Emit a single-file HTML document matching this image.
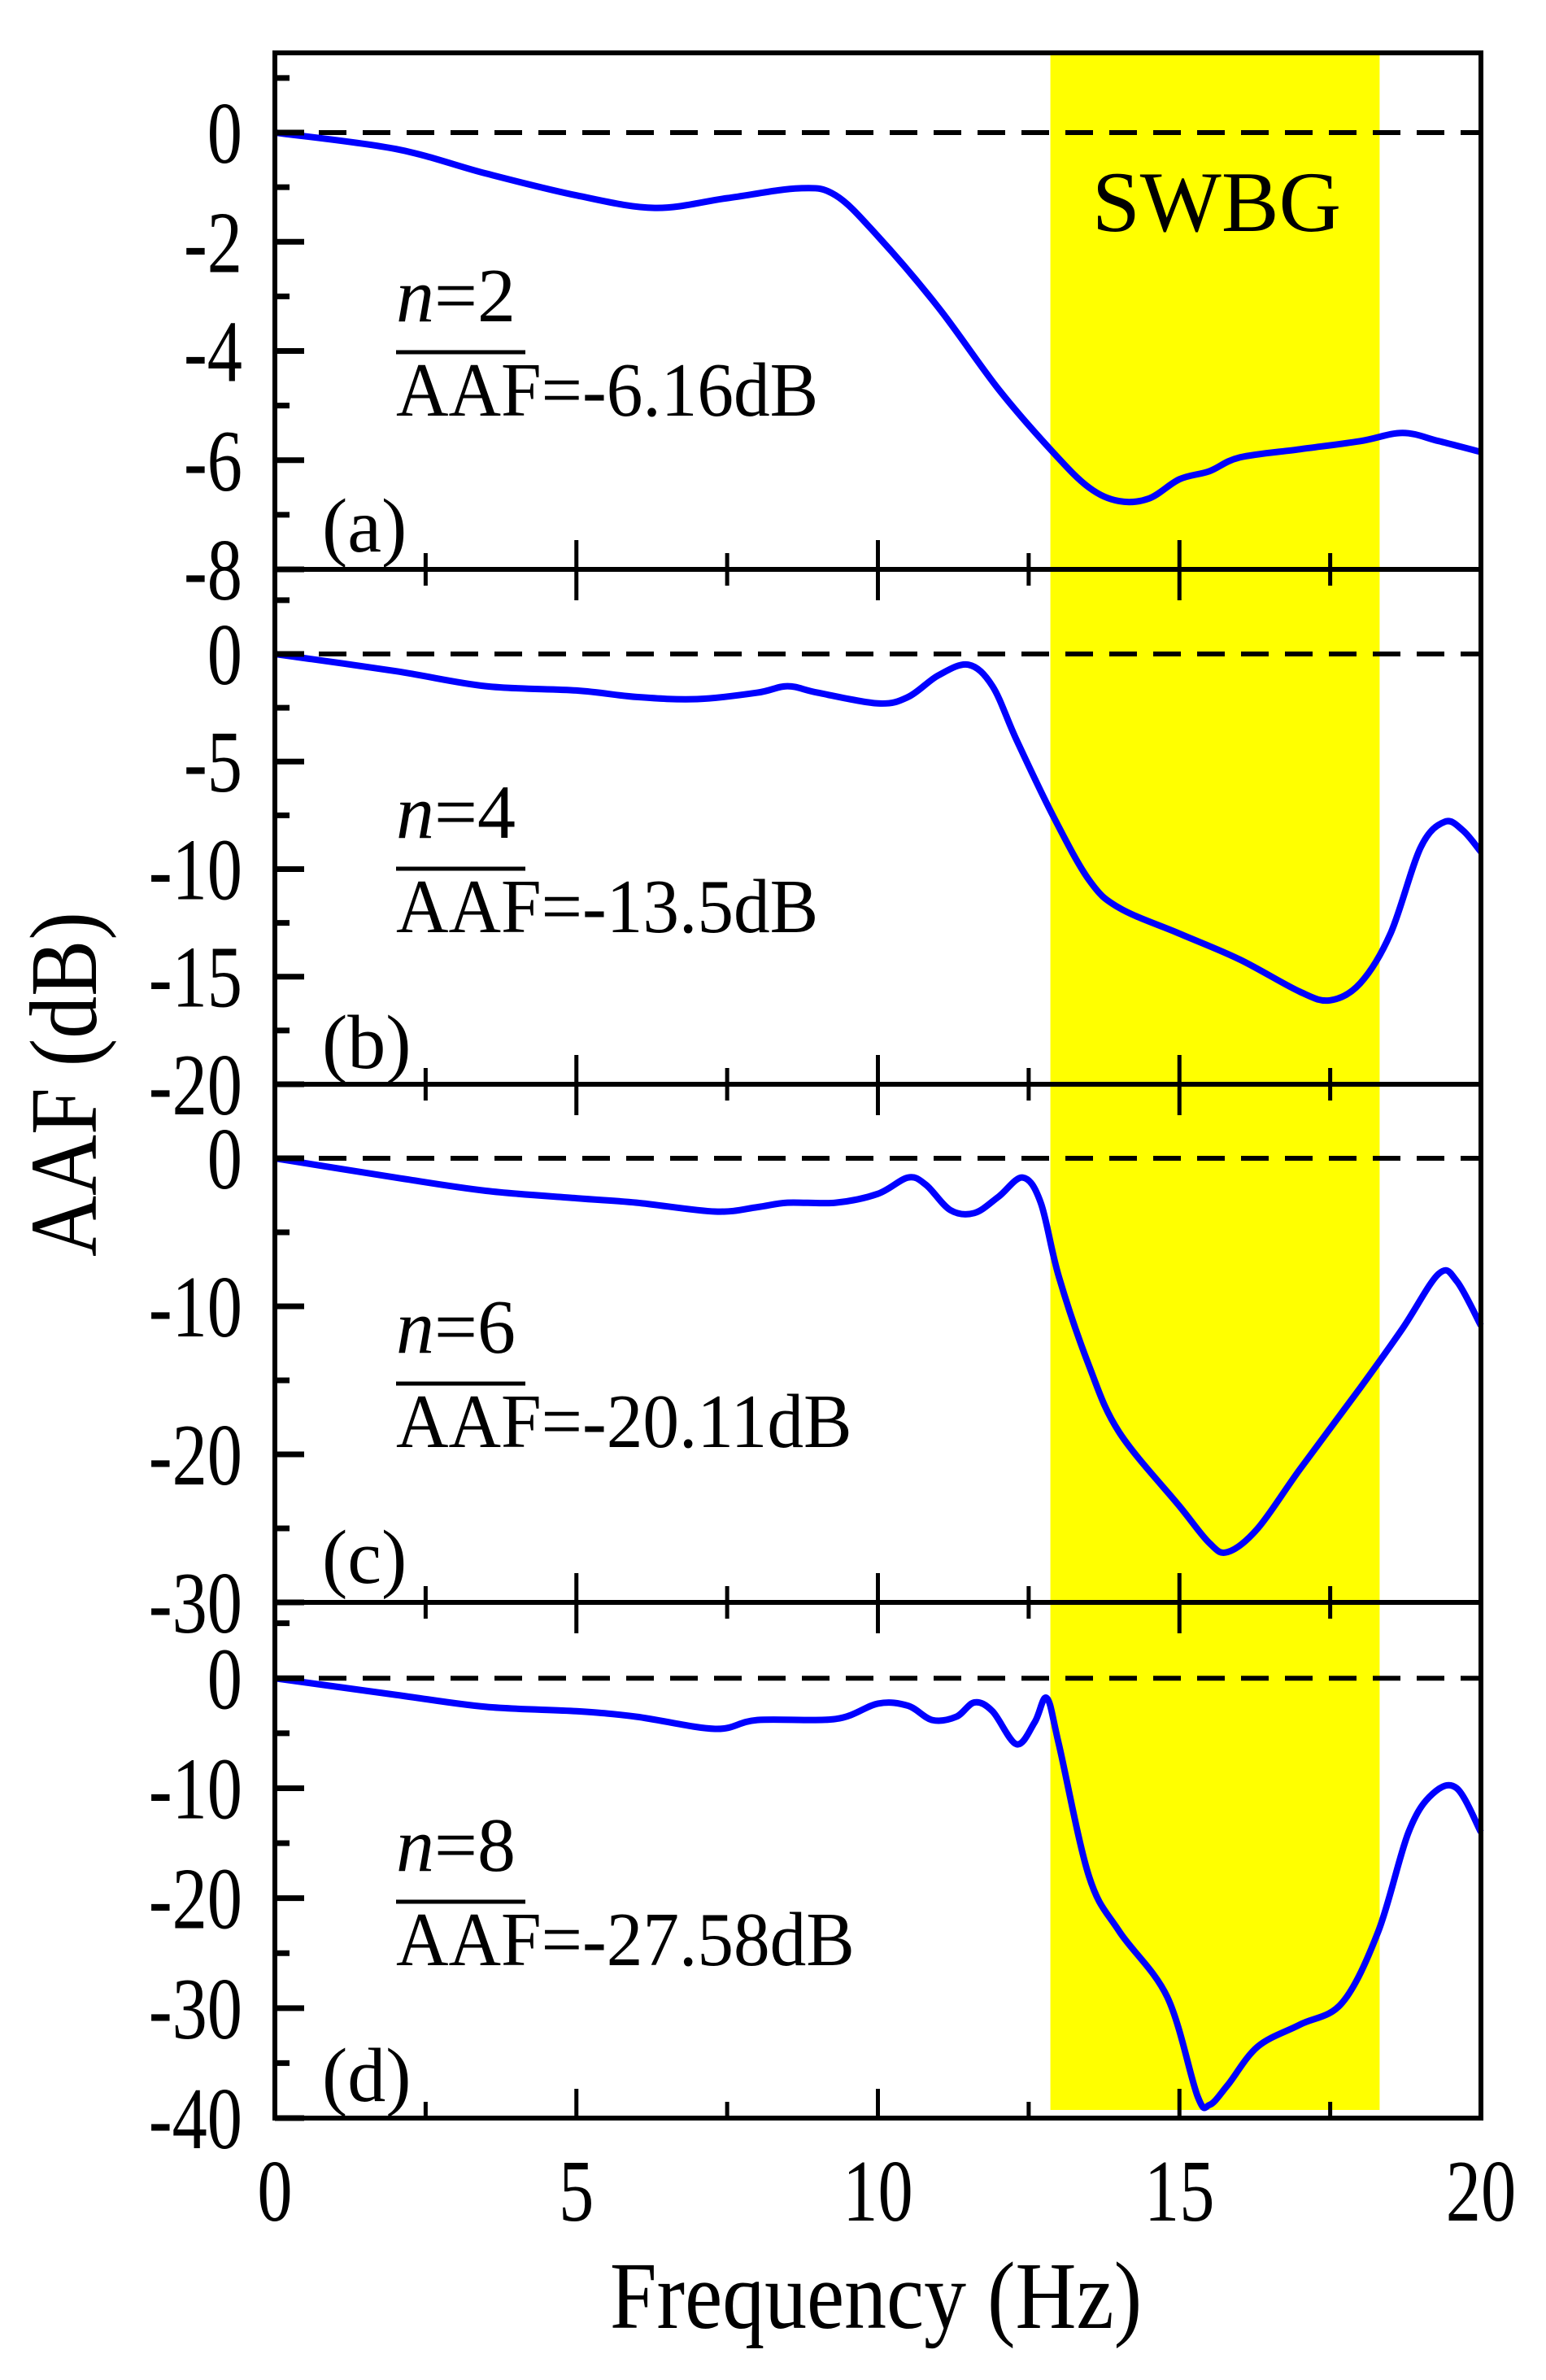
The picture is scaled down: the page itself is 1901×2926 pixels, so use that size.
<!DOCTYPE html>
<html><head><meta charset="utf-8"><style>
html,body{margin:0;padding:0;background:#fff;}
svg{display:block;font-family:"Liberation Serif",serif;}
</style></head><body>
<svg id="chart" width="1901" height="2926" viewBox="0 0 1901 2926" xmlns="http://www.w3.org/2000/svg"></svg>
<script>
const xTicks = [0, 5, 10, 15, 20];
const xMinorTicks = [2.5, 7.5, 12.5, 17.5];
const bandRange = [12.86, 18.32];
const panelLabels = ['(a)', '(b)', '(c)', '(d)'];
const nLabels = ['2', '4', '6', '8'];
const aafLabels = ['=-6.16dB', '=-13.5dB', '=-20.11dB', '=-27.58dB'];
const yRanges = [[-8, 1.46], [-20, 3.93], [-30, 5.0], [-40, 6.9]];
const yMajor = [[0, -2, -4, -6, -8], [0, -5, -10, -15, -20], [0, -10, -20, -30], [0, -10, -20, -30, -40]];
const yMinor = [[1, -1, -3, -5, -7], [2.5, -2.5, -7.5, -12.5, -17.5], [5, -5, -15, -25], [5, -5, -15, -25, -35]];
const freqA = [0,2,3.5,5,6.3,7.5,8.7,9.3,10,11,12,12.9,13.5,14,14.5,15,15.5,16,17,18,18.7,19.3,20];
const aafA = [0,-0.3,-0.75,-1.15,-1.38,-1.2,-1.02,-1.15,-1.9,-3.2,-4.7,-5.85,-6.5,-6.75,-6.7,-6.35,-6.2,-5.95,-5.8,-5.65,-5.5,-5.65,-5.85];
const freqB = [0,2,3.5,5,6,7,8,8.5,9,10,10.5,11,11.5,11.9,12.3,12.9,13.5,14,15,16,17,17.5,18,18.5,19,19.4,19.7,20];
const aafB = [0,-0.8,-1.5,-1.7,-2.0,-2.1,-1.8,-1.5,-1.8,-2.3,-2.0,-1.0,-0.5,-1.5,-4,-7.5,-10.5,-11.8,-13,-14.2,-15.7,-16.1,-15.3,-13,-9,-7.8,-8.2,-9.2];
const freqC = [0,2,3.5,5,6,7.3,8,8.5,9.3,10,10.5,10.8,11.2,11.6,12,12.4,12.7,13,13.5,14,15,15.5,15.8,16.3,17,18,18.7,19.3,19.6,20];
const aafC = [0,-1.3,-2.2,-2.7,-3.0,-3.6,-3.3,-3.0,-3.0,-2.4,-1.3,-1.8,-3.5,-3.7,-2.6,-1.3,-3,-8,-14,-18.5,-23.5,-26,-26.6,-25,-21,-15.5,-11.5,-7.8,-8.3,-11.3];
const freqD = [0,2,3.5,5,6,7.3,8,9.3,10,10.5,10.9,11.3,11.6,11.9,12.3,12.6,12.8,13,13.5,14,14.8,15.3,15.5,15.8,16.3,17,17.7,18.3,18.8,19.2,19.6,20];
const aafD = [0,-1.5,-2.6,-3.0,-3.5,-4.6,-3.8,-3.7,-2.3,-2.5,-3.8,-3.5,-2.2,-3.0,-6,-4,-1.8,-6,-18,-23,-29,-38,-38.8,-37,-33.5,-31.5,-29.5,-23,-14,-10.5,-10,-14];
const freqs = [freqA, freqB, freqC, freqD];
const aafs = [aafA, aafB, aafC, aafD];

const NS = 'http://www.w3.org/2000/svg';
const svg = document.getElementById('chart');
const L = 338, R = 1821;
const bounds = [65, 700, 1333, 1970, 2604];
const xs = v => L + (v - 0) / 20 * (R - L);
function mk(tag, attrs, parent) {
  const e = document.createElementNS(NS, tag);
  for (const k in attrs) e.setAttribute(k, attrs[k]);
  (parent || svg).appendChild(e);
  return e;
}
const band = mk('rect', {x: xs(bandRange[0]), y: 65, width: xs(bandRange[1]) - xs(bandRange[0]), height: 2594 - 65, fill: '#ffff00'});



function smooth(pts) {
  let d = 'M' + pts[0][0] + ',' + pts[0][1];
  for (let i = 0; i < pts.length - 1; i++) {
    const p0 = pts[Math.max(0, i - 1)], p1 = pts[i], p2 = pts[i + 1], p3 = pts[Math.min(pts.length - 1, i + 2)];
    const c1 = [p1[0] + (p2[0] - p0[0]) / 6, p1[1] + (p2[1] - p0[1]) / 6];
    const c2 = [p2[0] - (p3[0] - p1[0]) / 6, p2[1] - (p3[1] - p1[1]) / 6];
    d += ' C' + c1 + ' ' + c2 + ' ' + p2;
  }
  return d;
}

for (let p = 0; p < 4; p++) {
  const top = bounds[p], bot = bounds[p + 1];
  const [ymin, ymax] = yRanges[p];
  const ys = v => bot - (v - ymin) / (ymax - ymin) * (bot - top);
  const g = mk('g', {});
  
  
  const z = mk('line', {x1: L, x2: R, y1: ys(0), y2: ys(0), stroke: '#000', 'stroke-width': 6, 'stroke-dasharray': '34 20'}, g);
  
  
  const pts = freqs[p].map((f, i) => [xs(f).toFixed(1), ys(aafs[p][i]).toFixed(1)].map(Number));
  const c = mk('path', {d: smooth(pts), fill: 'none', stroke: '#0000ff', 'stroke-width': 8, 'stroke-linejoin': 'round'}, g);
  
  
  yMajor[p].forEach(v => {
    const y = ys(v);
    mk('line', {x1: L, x2: L + 36, y1: y, y2: y, stroke: '#000', 'stroke-width': 7}, g);
    const t = mk('text', {x: 0, y: 0, 'font-size': 108, 'text-anchor': 'end', transform: `translate(298,${y + 37}) scale(0.8,1)`}, g);
    t.textContent = String(v);
    
    
  });
  yMinor[p].forEach(v => {
    const y = ys(v);
    if (y > top + 3) mk('line', {x1: L, x2: L + 18, y1: y, y2: y, stroke: '#000', 'stroke-width': 7}, g);
  });
  xTicks.slice(1, -1).forEach(v => {
    mk('line', {x1: xs(v), x2: xs(v), y1: bot, y2: bot - 36, stroke: '#000', 'stroke-width': 5}, g);
    if (p > 0) mk('line', {x1: xs(v), x2: xs(v), y1: top, y2: top + 38, stroke: '#000', 'stroke-width': 5}, g);
  });
  xMinorTicks.forEach(v => {
    mk('line', {x1: xs(v), x2: xs(v), y1: bot, y2: bot - 20, stroke: '#000', 'stroke-width': 5}, g);
    if (p > 0) mk('line', {x1: xs(v), x2: xs(v), y1: top, y2: top + 20, stroke: '#000', 'stroke-width': 5}, g);
  });
  const f = mk('rect', {x: L, y: top, width: R - L, height: bot - top, fill: 'none', stroke: '#000', 'stroke-width': 6}, g);
  
  
  const nb = top + 330, ab = top + 446;
  const n = mk('text', {x: 487, y: nb, 'font-size': 94}, g);
  n.innerHTML = '<tspan font-style="italic">n</tspan>=' + nLabels[p];
  
  
  const a = mk('text', {x: 0, y: 0, 'font-size': 94, transform: `translate(487,${ab}) scale(0.95,1)`}, g);
  a.textContent = 'AAF' + aafLabels[p];
  
  
  mk('line', {x1: 487, x2: 646, y1: ab - 78, y2: ab - 78, stroke: '#000', 'stroke-width': 5}, g);
  const pl = mk('text', {x: 396, y: top + 613, 'font-size': 94}, g);
  pl.textContent = panelLabels[p];
  
  
}
xTicks.forEach(v => {
  const t = mk('text', {x: 0, y: 0, 'font-size': 108, 'text-anchor': 'middle', transform: `translate(${xs(v)},2730) scale(0.8,1)`});
  t.textContent = String(v);
  
  
});
const sw = mk('text', {x: 1496, y: 284, 'font-size': 106, 'text-anchor': 'middle'});
sw.textContent = 'SWBG';


const xt = mk('text', {x: 0, y: 0, 'font-size': 118, 'text-anchor': 'middle', transform: 'translate(1077,2862) scale(0.88,1)'});
xt.textContent = 'Frequency (Hz)';


const yt = mk('text', {x: 0, y: 0, 'font-size': 118, 'text-anchor': 'middle', transform: 'translate(118,1333) rotate(-90) scale(0.88,1)'});
yt.textContent = 'AAF (dB)';


</script>
</body></html>
